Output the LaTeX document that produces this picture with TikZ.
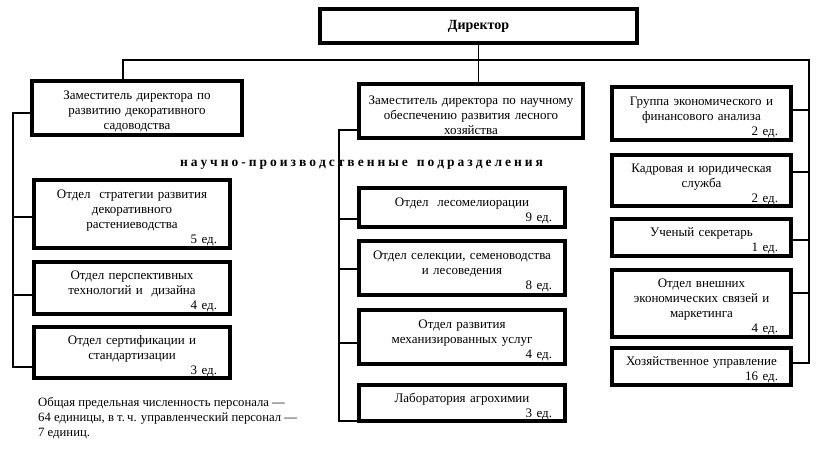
\documentclass[tikz,border=0pt]{standalone}
\usepackage{fontspec}
\setmainfont{Liberation Serif}
\newcommand{\edn}[1]{\\\makebox[\linewidth][r]{#1\hspace{3pt}}}
\newcommand{\tp}{\rule{0pt}{16.5pt}}
\begin{document}
\begin{tikzpicture}[x=1pt,y=-1pt,
  bx/.style={draw, line width=4pt, inner xsep=10pt, inner ysep=0pt, align=center,
    font=\fontsize{13}{15}\selectfont},
  lcol/.style={bx, text width=176pt},
  mcol/.style={bx, text width=186pt},
  rcol/.style={bx, text width=159pt},
  ln/.style={line width=1.1pt}]
\useasboundingbox (0,0) rectangle (832,471);

% director and deputies
\node[bx, minimum width=317pt, minimum height=34pt, font=\bfseries\fontsize{14}{16}\selectfont] (dir) at (478.5,26) {Директор};
\node[bx, text width=190pt, minimum height=54pt] (d1) at (137,108) {\tp Заместитель директора по\\развитию декоративного\\садоводства};
\node[bx, inner xsep=6pt, text width=212pt, minimum height=54pt] (d2) at (471,111) {\tp Заместитель директора по научному\\обеспечению развития лесного\\хозяйства};

% right column
\node[rcol, minimum height=53pt] (r1) at (701.5,113.5) {\tp Группа экономического и\\финансового анализа\edn{2 ед.}};
\node[rcol, minimum height=51pt] (r2) at (701.5,180.5) {\tp Кадровая и юридическая\\служба\edn{2 ед.}};
\node[rcol, minimum height=37pt] (r3) at (701.5,237.5) {\tp Ученый секретарь\edn{1 ед.}};
\node[rcol, minimum height=67pt] (r4) at (701.5,303.5) {\tp Отдел внешних\\экономических связей и\\маркетинга\edn{4 ед.}};
\node[rcol, minimum height=37pt] (r5) at (701.5,366.5) {\tp Хозяйственное управление\edn{16 ед.}};

% left column
\node[lcol, minimum height=68pt] (l1) at (132,214) {\tp Отдел\ \ стратегии развития\\декоративного\\растениеводства\edn{5 ед.}};
\node[lcol, minimum height=52pt] (l2) at (132,288) {\tp Отдел перспективных\\технологий и\ \ дизайна\edn{4 ед.}};
\node[lcol, minimum height=51pt] (l3) at (132,352.5) {\tp Отдел сертификации и\\стандартизации\edn{3 ед.}};

% middle column
\node[mcol, minimum height=39pt] (m1) at (462,207.5) {\tp Отдел\ \ лесомелиорации\edn{9 ед.}};
\node[mcol, minimum height=54pt] (m2) at (462,268) {\tp Отдел селекции, семеноводства\\и лесоведения\edn{8 ед.}};
\node[mcol, minimum height=54pt] (m3) at (462,337) {\tp Отдел развития\\механизированных услуг\edn{4 ед.}};
\node[mcol, minimum height=36pt] (m4) at (462,403) {\tp Лаборатория агрохимии\edn{3 ед.}};

% heading
\node[inner sep=0pt, font=\bfseries\fontsize{13.5}{15}\selectfont] (hd) at (361.5,165)
  {\makebox[363pt][s]{н\hfill а\hfill у\hfill ч\hfill н\hfill о\hfill -\hfill п\hfill р\hfill о\hfill и\hfill з\hfill в\hfill о\hfill д\hfill с\hfill т\hfill в\hfill е\hfill н\hfill н\hfill ы\hfill е\hfill\hfill\hfill п\hfill о\hfill д\hfill р\hfill а\hfill з\hfill д\hfill е\hfill л\hfill е\hfill н\hfill и\hfill я}};

% footnote
\node[anchor=north west, inner sep=0pt, align=left, font=\fontsize{12.7}{15}\selectfont] (note) at (38,397.5)
  {Общая предельная численность персонала —\\64 единицы, в т.\,ч. управленческий персонал —\\7 единиц.};

% bus coordinates
\coordinate (busL) at (123,60);
\coordinate (busR) at (809,60);
\coordinate (tr1) at (809,110);
\coordinate (tr2) at (809,172);
\coordinate (tr3) at (809,240);
\coordinate (tr4) at (809,293);
\coordinate (tr5) at (809,363);
\coordinate (tl0) at (13,113);
\coordinate (tl1) at (13,217);
\coordinate (tl2) at (13,295);
\coordinate (tl3) at (13,367);
\coordinate (tm0) at (339,130);
\coordinate (tm1) at (339,219);
\coordinate (tm2) at (339,269);
\coordinate (tm3) at (339,343);
\coordinate (tm4) at (339,421);

% connectors
\draw[ln] (dir.south) -- (dir.south |- d2.north);
\draw[ln] (busL |- d1.north) -- (busL) -- (busR) -- (tr5) -- (tr5 -| r5.east);
\draw[ln] (tr1) -- (tr1 -| r1.east);
\draw[ln] (tr2) -- (tr2 -| r2.east);
\draw[ln] (tr3) -- (tr3 -| r3.east);
\draw[ln] (tr4) -- (tr4 -| r4.east);
\draw[ln] (tl0 -| d1.west) -- (tl0) -- (tl3) -- (tl3 -| l3.west);
\draw[ln] (tl1) -- (tl1 -| l1.west);
\draw[ln] (tl2) -- (tl2 -| l2.west);
\draw[ln] (tm0 -| d2.west) -- (tm0) -- (tm4) -- (tm4 -| m4.west);
\draw[ln] (tm1) -- (tm1 -| m1.west);
\draw[ln] (tm2) -- (tm2 -| m2.west);
\draw[ln] (tm3) -- (tm3 -| m3.west);
\end{tikzpicture}
\end{document}
